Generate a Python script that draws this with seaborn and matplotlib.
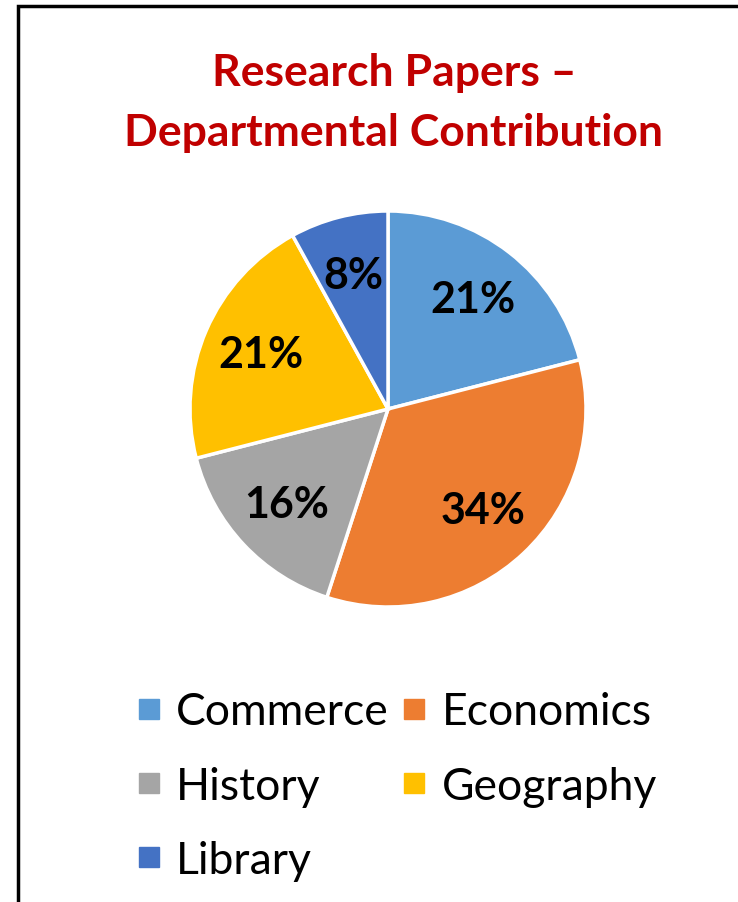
import matplotlib
matplotlib.use("Agg")
import matplotlib.pyplot as plt
import seaborn as sns
from matplotlib.lines import Line2D
from matplotlib.patches import Rectangle

# data
departments = ["Commerce", "Economics", "History", "Geography", "Library"]
shares = [21, 34, 16, 21, 8]
colors = ["#5B9BD5", "#ED7D31", "#A5A5A5", "#FFC000", "#4472C4"]

sns.set_theme(style="white")
plt.rcParams['font.family'] = ['Lato', 'DejaVu Sans']

W, H = 738, 903
fig = plt.figure(figsize=(W / 100, H / 100), dpi=100)

# pie axes: centre (388, 410) px, radius 198 px
cx, cy, r = 388, 410, 198
ax = fig.add_axes([(cx - r) / W, (H - cy - r) / H, 2 * r / W, 2 * r / H])
palette = sns.color_palette(colors)
wedges, texts, autotexts = ax.pie(
    shares, colors=palette, startangle=90, counterclock=False,
    autopct=lambda p: f"{p:.0f}%", pctdistance=0.7, radius=1,
    wedgeprops=dict(edgecolor="white", linewidth=2.5),
    textprops=dict(fontsize=31, fontweight="bold", color="black"))
ax.set_xlim(-1.0, 1.0)
ax.set_ylim(-1.0, 1.0)
ax.set_aspect("equal")

fig.text(394 / W, 1 - 73 / H, "Research Papers –", ha="center", va="center",
         fontsize=32, fontweight="bold", color="#C00000")
fig.text(394 / W, 1 - 133 / H, "Departmental Contribution", ha="center", va="center",
         fontsize=32, fontweight="bold", color="#C00000")

# legend, filled row by row
order = [0, 2, 4, 1, 3]
handles = [Line2D([], [], marker="s", linestyle="", markersize=14,
                  color=palette[i]) for i in order]
labels = [departments[i] for i in order]
fig.legend(handles, labels, ncol=2, loc="upper left",
           bbox_to_anchor=(113 / W, 1 - 670 / H), frameon=False,
           fontsize=32, labelcolor="black", borderpad=0,
           handletextpad=0.32, columnspacing=0.27,
           labelspacing=0.75, handlelength=0.6)

# outer frame
fig.add_artist(Rectangle((18 / W, -0.1), 1.2, 1.1 - 7 / H, transform=fig.transFigure,
                         fill=False, edgecolor="black", linewidth=2.5, clip_on=False))

plt.savefig("out.png", dpi=100)
